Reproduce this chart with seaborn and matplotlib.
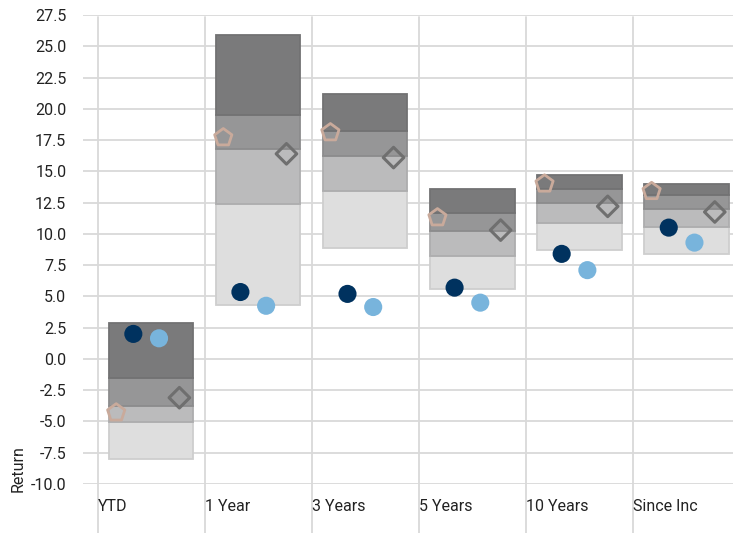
import numpy as np
import pandas as pd
import matplotlib
matplotlib.use('Agg')
import matplotlib.pyplot as plt
import seaborn as sns

# data
categories = ['YTD', '1 Year', '3 Years', '5 Years', '10 Years', 'Since Inc']
band_top = [2.9, 25.9, 21.2, 13.6, 14.7, 14.0]
band_q1 = [-1.5, 19.5, 18.2, 11.7, 13.6, 13.1]
band_mid = [-3.8, 16.8, 16.2, 10.25, 12.5, 12.0]
band_q3 = [-5.05, 12.4, 13.4, 8.2, 10.9, 10.55]
band_bottom = [-8.0, 4.3, 8.9, 5.6, 8.75, 8.4]
fund = [2.0, 5.35, 5.2, 5.7, 8.4, 10.5]
benchmark = [1.65, 4.25, 4.15, 4.5, 7.1, 9.3]
peer_a = [-4.3, 17.7, 18.1, 11.3, 14.0, 13.4]
peer_b = [-3.1, 16.4, 16.1, 10.3, 12.2, 11.75]
y_ticks = np.arange(-10.0, 27.6, 2.5)

sns.set_theme(style='white')
plt.rcParams['font.family'] = ['Roboto', 'DejaVu Sans']

fig = plt.figure(figsize=(7.33, 5.33), dpi=100)
ax = fig.add_axes([83 / 733, 1 - 484 / 533, 650 / 733, 469 / 533])

x = np.arange(len(categories))
grid_c = '#d9d9d9'
txt_c = '#222222'

# horizontal grid
for yv in y_ticks:
    ax.axhline(yv, color=grid_c, lw=1.3, zorder=0)
# vertical grid lines run down through the label area
for xi in x:
    ax.axvline(xi, ymin=-0.11, ymax=0.995, color=grid_c, lw=1.3, zorder=0, clip_on=False)

# floating quartile boxes
bands = [
    (band_bottom, band_q3, '#dedede', '#cecece'),
    (band_q3, band_mid, '#bbbbbc', '#adadae'),
    (band_mid, band_q1, '#969697', '#8c8c8d'),
    (band_q1, band_top, '#7a7a7b', '#727273'),
]
for lo, hi, fc, ec in bands:
    lo = np.array(lo)
    hi = np.array(hi)
    ax.bar(x + 0.1, hi - lo, bottom=lo, width=0.79, align='edge',
           color=fc, edgecolor=ec, linewidth=1.3, zorder=2)

pts = pd.DataFrame({
    'x': np.concatenate([x + 0.33, x + 0.57]),
    'y': fund + benchmark,
    'series': ['Fund'] * len(x) + ['Benchmark'] * len(x),
})
sns.scatterplot(data=pts, x='x', y='y', hue='series',
                palette={'Fund': '#00325f', 'Benchmark': '#78b4dc'},
                s=170, edgecolor='none', legend=False, ax=ax, zorder=5)

ax.scatter(x + 0.17, peer_a, marker='p', s=170, facecolor='none',
           edgecolor='#c9aa9b', linewidth=2.0, zorder=5)
ax.scatter(x + 0.76, peer_b, marker='D', s=110, facecolor='none',
           edgecolor='#6f6f6f', linewidth=2.2, zorder=5)

ax.set_xlim(-0.14, 5.93)
ax.set_ylim(-10, 27.5)
ax.set_yticks(y_ticks)
ax.set_yticklabels([f'{v:.1f}' for v in y_ticks], fontsize=11.5, color=txt_c)
ax.set_xticks(x)
ax.set_xticklabels(categories, fontsize=11.5, ha='left', color=txt_c)
ax.tick_params(axis='y', length=0, pad=12)
ax.tick_params(axis='x', length=0, pad=11)
ax.set_xlabel('')
ax.set_ylabel('')
fig.text(18 / 733, 1 - 492 / 533, 'Return', rotation=90, ha='center', va='bottom',
         fontsize=11.5, color=txt_c)
for s in ax.spines.values():
    s.set_visible(False)
ax.grid(False)

fig.savefig('out.png', dpi=100)
